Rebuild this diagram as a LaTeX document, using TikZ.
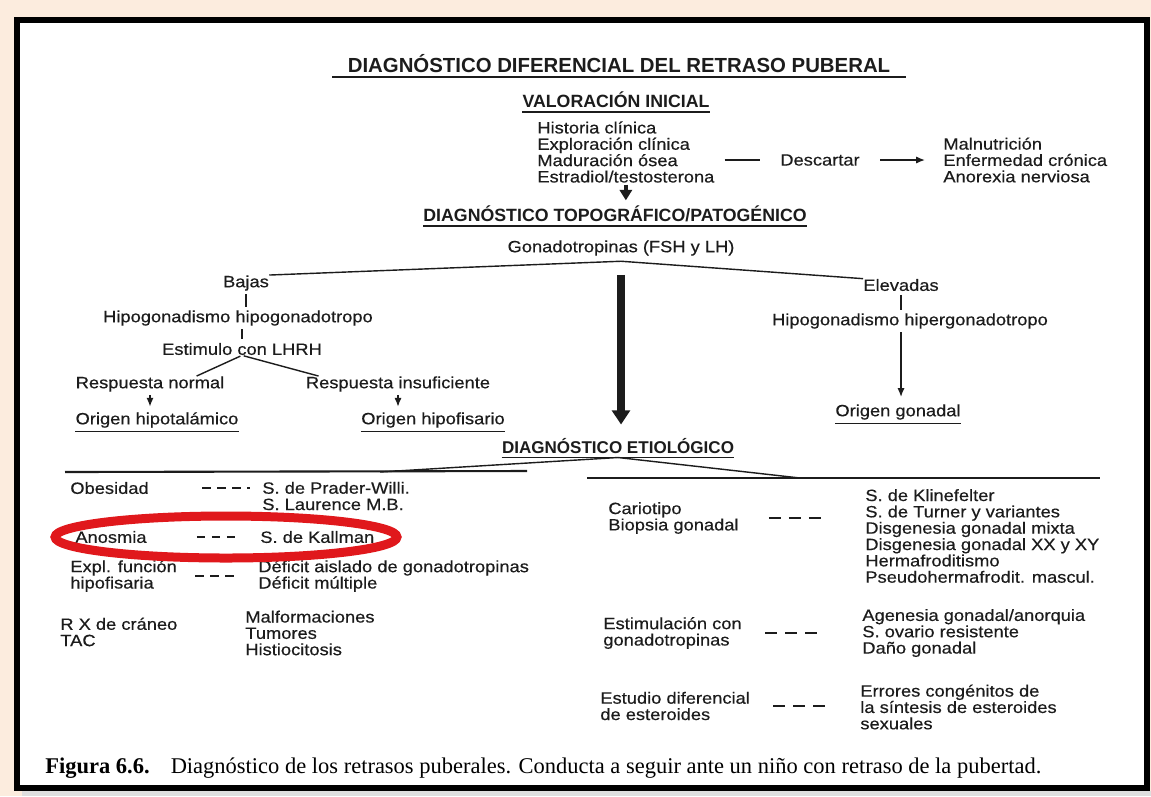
\documentclass[tikz,border=0pt]{standalone}
\usepackage{fontspec}
\usepackage{tikz}
\usetikzlibrary{arrows.meta}
\setmainfont{Liberation Serif}
\newfontfamily\diagfont[FakeStretch=1.12,FakeBold=0.4]{Liberation Sans}
\newfontfamily\headfont{Liberation Sans}
\definecolor{fondopapel}{RGB}{252,236,222}
\definecolor{rojomarca}{RGB}{224,24,28}
\definecolor{tinta}{RGB}{28,28,28}

\begin{document}
\begin{tikzpicture}[x=0.02cm, y=-0.02cm,
  txt/.style={font=\diagfont\fontsize{9.3}{9.3}\selectfont, text=tinta, inner sep=0pt, align=left, anchor=west},
  cab/.style={font=\headfont\bfseries\fontsize{10.1}{12}\selectfont, text=tinta, inner xsep=0pt, inner ysep=2pt},
  subr/.style={tinta, line width=0.9pt},
  linea/.style={tinta, line width=0.8pt},
  flecha/.style={linea, -{Latex[length=5pt,width=4pt]}},
  gordita/.style={tinta, line width=2.3pt, -{Triangle[length=6pt,width=7pt]}},
  gorda/.style={tinta, line width=4pt, -{Triangle[length=8pt,width=10pt]}},
  guion/.style={tinta, line width=1pt, dash pattern=on 0.17cm off 0.13cm},
  guionlargo/.style={tinta, line width=1pt, dash pattern=on 0.24cm off 0.16cm}]
  \useasboundingbox (0,0) rectangle (1151,796);

  % Page and frame
  \fill[fondopapel] (0,0) rectangle (1151,796);
  \fill[white] (17,20) rectangle (1147,788);
  \fill[gray!25] (22,791) rectangle (1151,796);
  \draw[line width=0.12cm] (17,20) rectangle (1147,788);

  % Valoracion inicial
  \node[cab, font=\headfont\bfseries\fontsize{11.6}{14}\selectfont, inner xsep=0.3cm] (tit) at (619,64) {DIAGNÓSTICO DIFERENCIAL DEL RETRASO PUBERAL};
  \draw[subr, line width=1.2pt] (tit.south west) -- (tit.south east);
  \node[cab] (vi) at (616,100) {VALORACIÓN INICIAL};
  \draw[subr] (vi.south west) -- (vi.south east);
  \node[txt] (hist) at (537,152) {Historia clínica\\Exploración clínica\\Maduración ósea\\Estradiol/testosterona};
  \node[txt] (desc) at (780,160) {Descartar};
  \node[txt] (excl) at (943,160) {Malnutrición\\Enfermedad crónica\\Anorexia nerviosa};
  \draw[linea, shorten <=0.2cm, shorten >=0.4cm] (hist.east |- desc.west) -- (desc.west);
  \draw[flecha, shorten <=0.4cm, shorten >=0.36cm] (desc.east) -- (excl.west);

  % Diagnostico topografico
  \node[cab] (topo) at (615,214) {DIAGNÓSTICO TOPOGRÁFICO/PATOGÉNICO};
  \draw[subr] (topo.south west) -- (topo.south east);
  \draw[gordita, shorten <=1pt, shorten >=1pt] (hist.south) -- (hist.south |- topo.north);
  \node[txt, anchor=center] (gon) at (621,248) {Gonadotropinas (FSH y LH)};

  % Bajas
  \node[txt, anchor=center] (bajas) at (246,283) {Bajas};
  \node[txt, anchor=center] (hipo) at (238,318) {Hipogonadismo hipogonadotropo};
  \node[txt, anchor=center] (lhrh) at (242,349) {Estimulo con LHRH};
  \node[txt, anchor=center] (rn) at (150,384) {Respuesta normal};
  \node[txt, anchor=center] (ri) at (398,384) {Respuesta insuficiente};
  \node[txt, anchor=center, inner ysep=2pt] (oh) at (157,420) {Origen hipotalámico};
  \node[txt, anchor=center, inner ysep=2pt] (ohf) at (433,420) {Origen hipofisario};
  \draw[subr] (oh.south west) -- (oh.south east);
  \draw[subr] (ohf.south west) -- (ohf.south east);
  \draw[linea, shorten <=2pt, shorten >=2pt] (bajas.south) -- (bajas.south |- hipo.north);
  \draw[linea, shorten <=2pt, shorten >=2pt] (lhrh.north |- hipo.south) -- (lhrh.north);
  \draw[linea, shorten <=1pt] (lhrh.south) -- ([xshift=-0.56cm]rn.north east);
  \draw[linea, shorten <=1pt] (lhrh.south) -- ([xshift=0.26cm]ri.north west);
  \draw[flecha, shorten <=2pt, shorten >=1pt] (rn.south) -- (rn.south |- oh.north);
  \draw[flecha, shorten <=2pt, shorten >=1pt] (ri.south) -- (ri.south |- ohf.north);

  % Elevadas
  \node[txt, anchor=center] (elev) at (901,285) {Elevadas};
  \node[txt, anchor=center] (hiper) at (910,321) {Hipogonadismo hipergonadotropo};
  \node[txt, anchor=center, inner ysep=2pt] (ogon) at (898,412) {Origen gonadal};
  \draw[subr] (ogon.south west) -- (ogon.south east);
  \draw[linea, shorten <=2pt, shorten >=2pt] (elev.south) -- (elev.south |- hiper.north);
  \draw[flecha, shorten <=2pt, shorten >=2pt] (elev.south |- hiper.south) -- (elev.south |- ogon.north);

  % Diagnostico etiologico
  \node[cab, font=\headfont\bfseries\fontsize{9.7}{12}\selectfont] (eti) at (618,446) {DIAGNÓSTICO ETIOLÓGICO};
  \draw[subr] (eti.south west) -- (eti.south east);

  % Gonadotropinas ramas
  \draw[linea] (bajas.north east) -- ([yshift=-3pt]gon.south) -- (elev.north west);
  \draw[gorda, shorten <=0.38cm, shorten >=0.2cm] (gon.south) -- (gon.south |- eti.north);

  \coordinate (ramI) at (380,472);
  \coordinate (ramD) at (800,478);
  \draw[linea] (eti.south) -- (ramI);
  \draw[linea] (eti.south) -- (ramD);
  \draw[linea, line width=1.2pt] (65,472) -- (527,471);
  \draw[linea, line width=1.2pt] (587,478) -- (1100,478);

  % Columna izquierda
  \node[txt] (obes) at (70,488) {Obesidad};
  \node[txt] (prader) at (262,496) {S. de Prader-Willi.\\S. Laurence M.B.};
  \node[txt] (anos) at (75,537) {Anosmia};
  \node[txt] (kall) at (260,537) {S. de Kallman};
  \node[txt] (expl) at (70,576) {Expl. función\\hipofisaria};
  \node[txt] (defic) at (258,576) {Déficit aislado de gonadotropinas\\Déficit múltiple};
  \node[txt] (rx) at (60,632) {R X de cráneo\\TAC};
  \node[txt] (malf) at (245,633) {Malformaciones\\Tumores\\Histiocitosis};
  \draw[guion, shorten <=1.06cm, shorten >=0.24cm] (obes.east) -- (obes.east -| prader.west);
  \draw[guion, shorten <=1.0cm, shorten >=0.46cm] (anos.east) -- (kall.west);
  \draw[guion, shorten <=0.36cm, shorten >=0.36cm] (expl.east) -- (expl.east -| defic.west);

  % Columna derecha
  \node[txt] (cario) at (608,518) {Cariotipo\\Biopsia gonadal};
  \node[txt] (klin) at (865,536) {S. de Klinefelter\\S. de Turner y variantes\\Disgenesia gonadal mixta\\Disgenesia gonadal XX y XY\\Hermafroditismo\\Pseudohermafrodit. mascul.};
  \node[txt] (estim) at (603,633) {Estimulación con\\gonadotropinas};
  \node[txt] (agen) at (862,633) {Agenesia gonadal/anorquia\\S. ovario resistente\\Daño gonadal};
  \node[txt] (estud) at (600,706) {Estudio diferencial\\de esteroides};
  \node[txt] (errores) at (860,707) {Errores congénitos de\\la síntesis de esteroides\\sexuales};
  \draw[guionlargo, shorten <=0.6cm, shorten >=0.74cm] (cario.east) -- (cario.east -| klin.west);
  \draw[guionlargo, shorten <=0.46cm, shorten >=0.74cm] (estim.east) -- (estim.east -| agen.west);
  \draw[guionlargo, shorten <=0.46cm, shorten >=0.6cm] (estud.east) -- (estud.east -| errores.west);

  % Marca roja
  \draw[rojomarca, line width=0.18cm] (226,537) ellipse [x radius=3.42cm, y radius=0.42cm];

  % Pie de figura
  \node[anchor=west, inner sep=0pt, font=\fontsize{12.8}{14}\selectfont] (pie) at (45,768) {\textbf{Figura 6.6.}\hspace{12pt}Diagnóstico de los retrasos puberales. Conducta a seguir ante un niño con retraso de la pubertad.};
\end{tikzpicture}
\end{document}
